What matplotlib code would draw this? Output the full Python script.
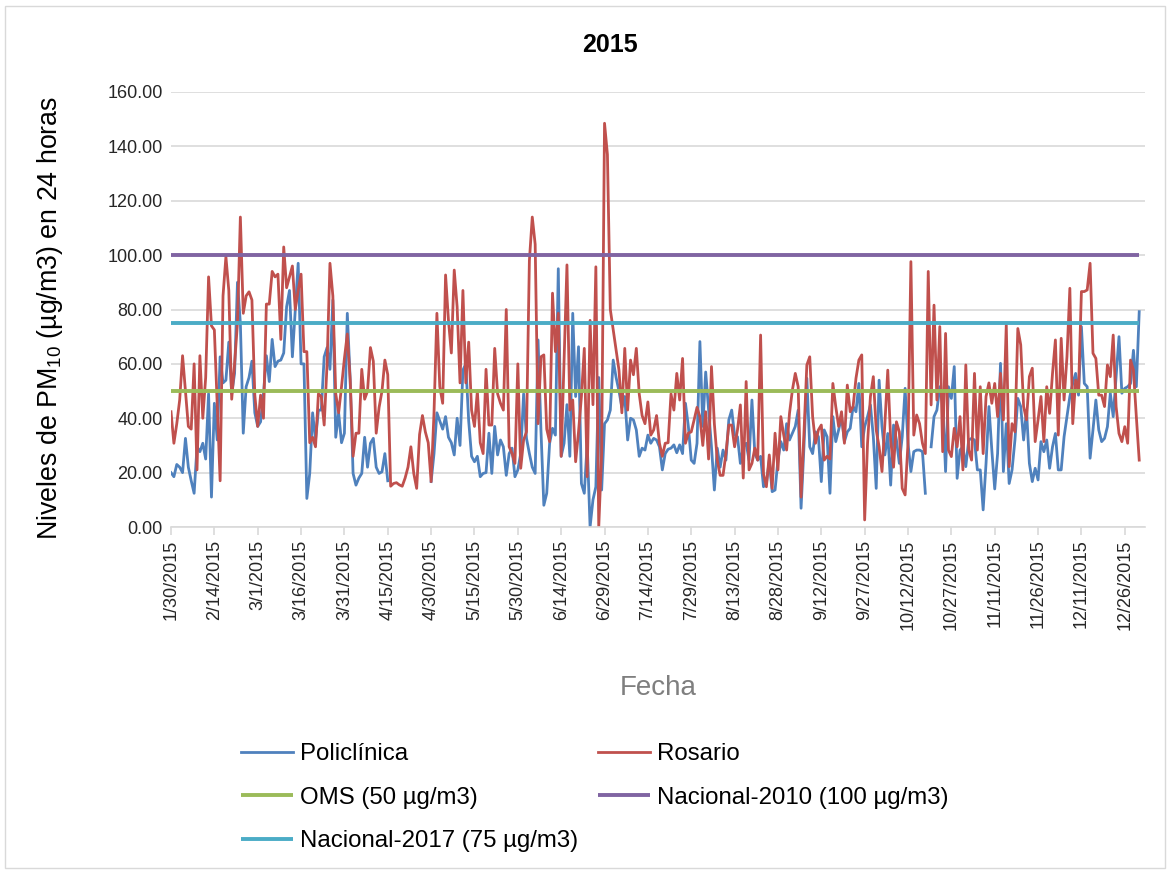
import numpy as np
import matplotlib
matplotlib.use('Agg')
import matplotlib.pyplot as plt
import matplotlib.dates as mdates
import pandas as pd
from matplotlib.patches import Rectangle
from matplotlib.ticker import FuncFormatter

plt.rcParams['font.family'] = ['Liberation Sans', 'DejaVu Sans']
plt.rcParams['mathtext.fontset'] = 'custom'
plt.rcParams['mathtext.rm'] = 'Liberation Sans'

# datos diarios (PM10, ug/m3), desde el 30/01/2015
fecha_inicio = '2015-01-30'
N = None
policlinica = [
    20, 18.5, 23, 22, 20, 32.6, 22, 17, 12.4, 29.5,
    27.7, 30.8, 25, 49, 11, 45.5, 32, 62.6, 53, 54,
    68, 49, 56.5, 90, 75, 34.5, 51.6, 55, 61, 42,
    37, 38.7, 49, 63, 53.5, 69, 59, 61, 61.4, 64,
    81, 87, 62.6, 80, 97, 60, 60, 10.5, 19.7, 42,
    32, 43, 43, 62.6, 66, 58, 83.5, 33, 42, 31,
    34.5, 78.6, 54, 19.7, 15.4, 18, 19.7, 33, 22, 30.8,
    32.6, 22, 19.7, 20.3, 27, 17, N, N, N, N,
    N, N, N, N, N, N, N, N, N, N,
    16.7, 27, 42, 39, 36, 40.6, 33, 31, 26.5, 40,
    30, 57.7, 60, 39, 26, 24, 26, 18.5, 19.7, 20,
    34.5, 19.7, 37, 26.5, 32, 29.5, 19, 27, 29, 18.5,
    21, 27, 49, 32.6, 27, 22, 19.7, 68.8, 35.7, 8,
    12.4, 30.8, 36.3, 33.8, 95, 26, 30.8, 45, 26, 78.6,
    48, 66.3, 16, 12.4, 30.8, 0, 10, 14.8, 55, 13.6,
    38, 39.4, 43, 61.4, 55, 50, 44, 48, 32, 40,
    39.4, 35.7, 26, 29, 28.3, 33.8, 30.8, 32.6, 32, 29.5,
    21, 27, 28.6, 29, 30.2, 27.3, 30.2, 27, 45.5, 37,
    24.6, 23.4, 30.8, 68.2, 37, 57, 43, 29.5, 13.6, 29,
    22, 28.3, 24.6, 39.4, 43, 33.8, 33.2, 23.4, 29.5, 30.8,
    24.6, 46.7, 27, 24.6, 26, 14.8, 16, 24.6, 13, 13.6,
    24.6, 31.4, 28.3, 38, 32, 34.5, 37, 43, 6.9, 29.5,
    54.7, 29.5, 27, 35, 33.2, 16.7, 35.7, 33.2, 12.4, 40.6,
    31.4, 35.7, 40.6, 31.4, 35, 36.3, 44.3, 42.4, 52.8, 29.5,
    36.9, 40.6, 44.9, 33.2, 14.2, 54, 36.9, 26.5, 34.4, 15.4,
    37.5, 32, 23.4, 33.2, 51, 30.8, 20.4, 27.7, 28.3, 28.3,
    27.7, 12.4, N, 29.5, 40.6, 43, 51.6, 45.5, 20.4, 51.6,
    47.3, 59, 17.9, 28.3, 29.5, 22.2, 32, 32.6, 32, 21,
    21, 6.3, 23.4, 44.3, 28.3, 14, 27, 60.2, 20.4, 38,
    16, 21, 32, 47.3, 44.3, 32, 43, 23.4, 16.7, 21.6,
    17.3, 31.4, 27.7, 32, 21.6, 29.5, 34.4, 21, 21, 33.2,
    40.6, 48, 52.8, 56.5, 48.5, 73.7, 52.8, 51.6, 25.3, 35.7,
    46.7, 35.7, 31.4, 32.6, 36.9, 49.2, 40.6, 55.3, 70, 49.2,
    51, 51.6, 52.8, 65, 51.6, 79.2,
]
rosario = [
    42.4, 30.8, 38, 46.7, 63, 50, 37, 36, 60, 21,
    63, 40, 55, 92, 74, 72.5, 45, 17, 85, 99.4,
    87, 47, 60, 75, 114, 78.6, 85, 86.5, 83.5, 48.5,
    37, 48.5, 40, 82, 82, 94, 92, 93, 69, 103,
    88, 92, 96, 80, 87, 93, 64.5, 64.5, 31, 33,
    29.5, 49, 48, 37.5, 60, 97, 85, 49, 42, 51.6,
    62, 71, 54, 26, 34.5, 34.5, 58, 47, 50, 66,
    61, 34.5, 44, 50, 61.4, 56, 15, 16, 16.3, 15.5,
    15, 18, 22, 29.5, 19.7, 14.2, 34, 41, 35, 31,
    16.7, 42, 78.6, 51.6, 45.5, 92.7, 76, 64, 94.5, 81,
    53, 87, 53, 68, 43, 37, 50, 31, 27, 58,
    37.5, 37.5, 65.7, 49, 45.5, 43, 80, 29.5, 27, 23.4,
    60, 21.6, 32, 35, 98, 114, 104, 38, 62.6, 63.3,
    36, 31.4, 86, 64.5, 78.6, 26, 61.4, 96.4, 43, 46.7,
    24, 35, 48, 65.7, 18.5, 76, 45, 95.7, 0, 27,
    148.5, 137, 80, 72.5, 65, 57.7, 42, 65.7, 43, 61.4,
    56, 65.7, 49, 41, 38, 46, 33.8, 35.7, 41, 30.8,
    26, 30.8, 31, 49, 43, 56.5, 46.7, 62, 30.8, 34.5,
    35, 39.4, 44, 40.6, 30, 42.4, 25, 59, 38, 24.6,
    19, 19, 27, 37.5, 37.5, 29.5, 35.7, 44.9, 18, 53.5,
    21, 23.4, 29, 24.6, 70.6, 19.7, 14.8, 26.5, 14.2, 34.5,
    21, 40.6, 33.8, 28.3, 41.8, 50.4, 56.5, 51.6, 11, 34.5,
    59.6, 62.6, 40.6, 30.8, 35.7, 37.5, 24.6, 26, 25, 52.8,
    44.3, 37, 42.4, 30.8, 52.2, 42.4, 44.3, 54.7, 61.4, 63.3,
    2.6, 30.8, 48, 55.3, 35.7, 29.5, 20.4, 38, 57.7, 32,
    22, 38.7, 35, 14.2, 11.8, 30.8, 97.6, 33.8, 41.2, 38,
    30.8, 27, 94, 44.9, 81.6, 46.7, 73.7, 27.7, 71.2, 28.3,
    25.9, 36.3, 29.5, 40.6, 21, 59.6, 28.3, 24.6, 56.5, 28.3,
    51.6, 27, 48, 53, 45.5, 52.8, 40.6, 56.5, 39.4, 74.3,
    22.2, 38, 35, 73, 67, 44.3, 39.4, 55.3, 58.4, 31.4,
    39.4, 48, 31.4, 51.6, 41.8, 56.5, 68.8, 33.8, 69.4, 46.7,
    62.6, 87.8, 38, 54, 50.4, 86.6, 86.6, 87.2, 97, 63.9,
    62, 48.5, 48.5, 44.3, 59.6, 55.3, 70.6, 44.3, 34.4, 31.4,
    36.9, 30.8, 61.4, 57.7, 40.6, 24.6,
]

# limites de referencia
oms = 50
nacional_2010 = 100
nacional_2017 = 75

fechas_p = pd.date_range(fecha_inicio, periods=len(policlinica), freq='D')
fechas_r = pd.date_range(fecha_inicio, periods=len(rosario), freq='D')
pol = np.array(policlinica, dtype=float)
ros = np.array(rosario, dtype=float)

fig = plt.figure(figsize=(11.71, 8.71), dpi=100)
W, H = 1171, 871
ax = fig.add_axes([171 / W, 1 - 527 / H, (1145 - 171) / W, (527 - 92) / H])

l1, = ax.plot(fechas_p, pol, color='#4f81bd', lw=2.0, label='Policlínica')
l2, = ax.plot(fechas_r, ros, color='#c0504d', lw=2.0, label='Rosario')
l3, = ax.plot(fechas_r, np.full(len(fechas_r), oms), color='#9bbb59', lw=2.8,
              label='OMS (50 µg/m3)', solid_capstyle='butt')
l4, = ax.plot(fechas_r, np.full(len(fechas_r), nacional_2010), color='#8064a2', lw=2.8,
              label='Nacional-2010 (100 µg/m3)', solid_capstyle='butt')
l5, = ax.plot(fechas_r, np.full(len(fechas_r), nacional_2017), color='#4bacc6', lw=2.8,
              label='Nacional-2017 (75 µg/m3)', solid_capstyle='butt')

x0 = mdates.date2num(pd.Timestamp(fecha_inicio))
ax.set_xlim(x0, x0 + 337)
ax.set_ylim(0, 160)
ax.set_yticks(np.arange(0, 161, 20))
ax.yaxis.set_major_formatter(FuncFormatter(lambda v, p: f'{v:.2f}'))

ticks = pd.date_range(fecha_inicio, '2015-12-31', freq='15D')
ax.set_xticks(mdates.date2num(ticks))
ax.xaxis.set_major_formatter(FuncFormatter(
    lambda v, p: (lambda d: f'{d.month}/{d.day}/{d.year}')(mdates.num2date(v))))

ax.grid(axis='y', color='#d9d9d9', lw=1.2)
ax.set_axisbelow(True)
for s in ['left', 'top', 'right']:
    ax.spines[s].set_visible(False)
ax.spines['bottom'].set_color('#d9d9d9')
ax.spines['bottom'].set_linewidth(1.2)
ax.tick_params(axis='x', direction='out', length=6, width=1.2, color='#d9d9d9',
               labelrotation=90, labelsize=13, pad=3, labelcolor='#262626')
ax.tick_params(axis='y', length=0, labelsize=13, pad=6, labelcolor='#262626')

fig.text(610 / W, 1 - 45 / H, '2015', ha='center', va='center',
         fontsize=18, fontweight='bold', color='#000000')
fig.text(50 / W, 1 - 318 / H, 'Niveles de PM$_{\\mathregular{10}}$ (µg/m3) en 24 horas',
         rotation=90, ha='center', va='center', fontsize=19.3, color='#000000')
fig.text(658 / W, 1 - 688 / H, 'Fecha', ha='center', va='center',
         fontsize=20, color='#7f7f7f')

# leyenda en filas (orden de Excel)
fig.legend([l1, l3, l5, l2, l4],
           [l1.get_label(), l3.get_label(), l5.get_label(), l2.get_label(), l4.get_label()],
           loc='upper left', bbox_to_anchor=(241 / W, 1 - 743 / H), ncol=2,
           frameon=False, fontsize=17.3, handlelength=2.17, handletextpad=0.3,
           columnspacing=0.8, labelspacing=0.9, borderpad=0, borderaxespad=0)

fig.patches.append(Rectangle((5 / W, 3 / H), 1 - 11 / W, 1 - 9 / H, transform=fig.transFigure,
                             fill=False, ec='#d9d9d9', lw=1))

fig.savefig('out.png', dpi=100)
